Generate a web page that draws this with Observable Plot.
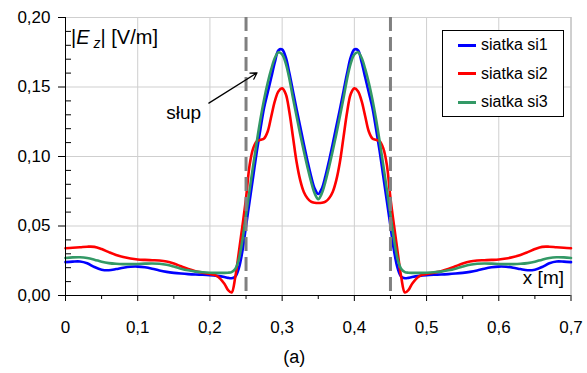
<!DOCTYPE html>
<html><head><meta charset="utf-8">
<script src="https://cdn.jsdelivr.net/npm/d3@7"></script>
<script src="https://cdn.jsdelivr.net/npm/@observablehq/plot@0.6"></script>
<style>
body{margin:0;background:#fff;font-family:"Liberation Sans",Arial,sans-serif}
#wrap{position:relative;width:587px;height:373px;overflow:hidden}
#ylab{position:absolute;left:71px;top:27px;font-size:20px;line-height:20px;white-space:nowrap;color:#000}
#ylab sub{font-size:14px;vertical-align:-4px}
#legend{position:absolute;left:442px;top:30px;width:122px;height:87px;box-sizing:border-box;border:1px solid #000;background:#fff}
.row{position:absolute;left:15px;height:20px;display:flex;align-items:center;font-size:16px;white-space:nowrap}
.sw{width:18px;height:0;border-top:3px solid;margin-right:5px}
</style></head>
<body><div id="wrap"></div>
<script>
const seriesNames = ["siatka si1", "siatka si2", "siatka si3"];
const seriesColors = ["#0000ff", "#ff0000", "#339966"];
const xTicks = [0, 0.1, 0.2, 0.3, 0.4, 0.5, 0.6, 0.7];
const xMinor = [0.05, 0.15, 0.25, 0.35, 0.45, 0.55, 0.65];
const yTicks = [0, 0.05, 0.10, 0.15, 0.20];
const yMinor = [0.01,0.02,0.03,0.04,0.06,0.07,0.08,0.09,0.11,0.12,0.13,0.14,0.16,0.17,0.18,0.19];
const pillarEdges = [0.25, 0.45];

const xs = [0,0.01,0.02,0.03,0.04,0.05,0.06,0.07,0.08,0.09,0.10,0.11,0.12,0.13,0.14,0.15,0.16,0.17,0.18,0.19,0.20,0.21,0.22,0.225,0.23,0.235,0.24,0.245,0.25,0.255,0.26,0.265,0.27,0.275,0.28,0.285,0.29,0.295,0.30,0.305,0.31,0.315,0.32,0.325,0.33,0.335,0.34,0.345,0.35,
0.355,0.36,0.365,0.37,0.375,0.38,0.385,0.39,0.395,0.40,0.405,0.41,0.415,0.42,0.425,0.43,0.435,0.44,0.445,0.45,0.455,0.46,0.465,0.47,0.475,0.48,0.49,0.50,0.51,0.52,0.53,0.54,0.55,0.56,0.57,0.58,0.59,0.60,0.61,0.62,0.63,0.64,0.65,0.66,0.67,0.68,0.69,0.70];

const si1 = [.0240,.0244,.0245,.0232,.0205,.0186,.0182,.0190,.0200,.0207,.0208,.0203,.0193,.0180,.0170,.0163,.0158,.0154,.0151,.0149,.0146,.0141,.0133,.0127,.0124,.0135,.0195,.0320,.0500,.0680,.0860,.1040,.1200,.1350,.1460,.1570,.1680,.1765,.1770,.1715,.1600,.1470,.1340,.1215,.1090,.0970,.0860,.0770,.0730,
.0770,.0860,.0970,.1090,.1215,.1340,.1470,.1600,.1715,.1770,.1765,.1680,.1570,.1460,.1350,.1200,.1040,.0860,.0680,.0500,.0320,.0195,.0135,.0124,.0127,.0133,.0141,.0146,.0149,.0151,.0154,.0158,.0163,.0170,.0180,.0193,.0203,.0208,.0207,.0200,.0190,.0182,.0186,.0205,.0232,.0245,.0244,.0240];

const si2 = [.0340,.0344,.0347,.0351,.0350,.0334,.0312,.0292,.0277,.0266,.0259,.0256,.0254,.0252,.0245,.0230,.0210,.0190,.0175,.0164,.0154,.0140,.0085,.0040,.0022,.0130,.0310,.0500,.0700,.0940,.1060,.1110,.1120,.1130,.1180,.1290,.1400,.1470,.1490,.1450,.1320,.1140,.0960,.0830,.0745,.0700,.0675,.0667,.0665,
.0667,.0675,.0700,.0745,.0830,.0960,.1140,.1320,.1450,.1490,.1470,.1400,.1290,.1180,.1130,.1120,.1110,.1060,.0940,.0700,.0500,.0310,.0130,.0022,.0040,.0085,.0140,.0154,.0164,.0175,.0190,.0210,.0230,.0245,.0252,.0254,.0256,.0259,.0266,.0277,.0292,.0312,.0334,.0350,.0351,.0347,.0344,.0340];

const si3 = [.0270,.0274,.0275,.0270,.0258,.0243,.0233,.0228,.0226,.0226,.0227,.0229,.0230,.0228,.0221,.0208,.0193,.0181,.0172,.0167,.0164,.0163,.0163,.0164,.0168,.0190,.0260,.0400,.0580,.0760,.0940,.1110,.1270,.1410,.1530,.1630,.1710,.1750,.1735,.1670,.1560,.1420,.1290,.1160,.1040,.0925,.0820,.0735,.0693,
.0735,.0820,.0925,.1040,.1160,.1290,.1420,.1560,.1670,.1735,.1750,.1710,.1630,.1530,.1410,.1270,.1110,.0940,.0760,.0580,.0400,.0260,.0190,.0168,.0164,.0163,.0163,.0164,.0167,.0172,.0181,.0193,.0208,.0221,.0228,.0230,.0229,.0227,.0226,.0226,.0228,.0233,.0243,.0258,.0270,.0275,.0274,.0270];

const slupLabel = "słup";
const slupText = [{x: 0.1636, y: 0.1317}];
const slupArrow = [{x1: 0.1985, y1: 0.1384, x2: 0.2653, y2: 0.1602}];

const allSeries = [si1, si2, si3];
const rows = [];
allSeries.forEach((arr, i) => arr.forEach((v, j) => rows.push({series: seriesNames[i], x: xs[j], y: v})));

const fmtX = d => d === 0 ? "0" : d3.format(".1f")(d).replace(".", ",");
const fmtY = d => d3.format(".2f")(d).replace(".", ",");
const blank = () => "";

const chart = Plot.plot({
  width: 587, height: 373,
  marginLeft: 65, marginRight: 16.5, marginTop: 17, marginBottom: 78,
  x: {domain: [0, 0.7], label: null},
  y: {domain: [0, 0.2], label: null},
  color: {domain: seriesNames, range: seriesColors},
  style: {fontFamily: "'Liberation Sans', Arial, sans-serif", fontSize: "17px", background: "#fff", color: "#000"},
  marks: [
    Plot.ruleX(xTicks.filter(d => d > 0 && d < 0.7), {stroke: "#cfcfcf", strokeWidth: 1}),
    Plot.ruleY(yTicks.filter(d => d > 0), {stroke: "#cfcfcf", strokeWidth: 1}),
    Plot.ruleX([0.7], {stroke: "#a0a0a0", strokeWidth: 1}),
    Plot.line(rows, {x: "x", y: "y", z: "series", stroke: "series", curve: "catmull-rom", strokeWidth: 2.6}),
    Plot.ruleX(pillarEdges, {stroke: "#808080", strokeWidth: 3, strokeDasharray: "14,6"}),
    Plot.ruleY([0], {stroke: "#000"}),
    Plot.ruleX([0], {stroke: "#000"}),
    Plot.axisX({ticks: xTicks, tickSize: 6, tickPadding: 19, tickFormat: fmtX, fontSize: 17, label: null}),
    Plot.axisX({ticks: xMinor, tickSize: 4, tickFormat: blank, label: null}),
    Plot.axisY({ticks: yTicks, tickSize: 7, tickPadding: 8, tickFormat: fmtY, fontSize: 17, label: null}),
    Plot.axisY({ticks: yMinor, tickSize: -6, tickFormat: blank, label: null}),
    Plot.text(slupText, {x: "x", y: "y", text: () => slupLabel, fontSize: 19, textAnchor: "middle", lineAnchor: "middle"}),
    Plot.arrow(slupArrow, {x1: "x1", y1: "y1", x2: "x2", y2: "y2", stroke: "#000", strokeWidth: 1.2, headLength: 9, bend: 0}),
    Plot.text(["x [m]"], {frameAnchor: "bottom-right", textAnchor: "end", lineAnchor: "middle", dx: -7, dy: -18, fontSize: 19}),
    Plot.text(["(a)"], {frameAnchor: "bottom", textAnchor: "middle", lineAnchor: "middle", dx: -24, dy: 62, fontSize: 18})
  ]
});

const wrap = document.getElementById("wrap");
wrap.appendChild(chart);

const ylab = document.createElement("div");
ylab.id = "ylab";
ylab.innerHTML = "|<i>E</i>&thinsp;<sub><i>z</i></sub>| [V/m]";
wrap.appendChild(ylab);

const legend = document.createElement("div");
legend.id = "legend";
const rowTops = [4, 32.5, 61];
seriesNames.forEach((name, i) => {
  const r = document.createElement("div");
  r.className = "row";
  r.style.top = rowTops[i] + "px";
  const sw = document.createElement("span");
  sw.className = "sw";
  sw.style.borderColor = seriesColors[i];
  const t = document.createElement("span");
  t.textContent = name;
  r.appendChild(sw); r.appendChild(t);
  legend.appendChild(r);
});
wrap.appendChild(legend);
</script>
</body></html>
